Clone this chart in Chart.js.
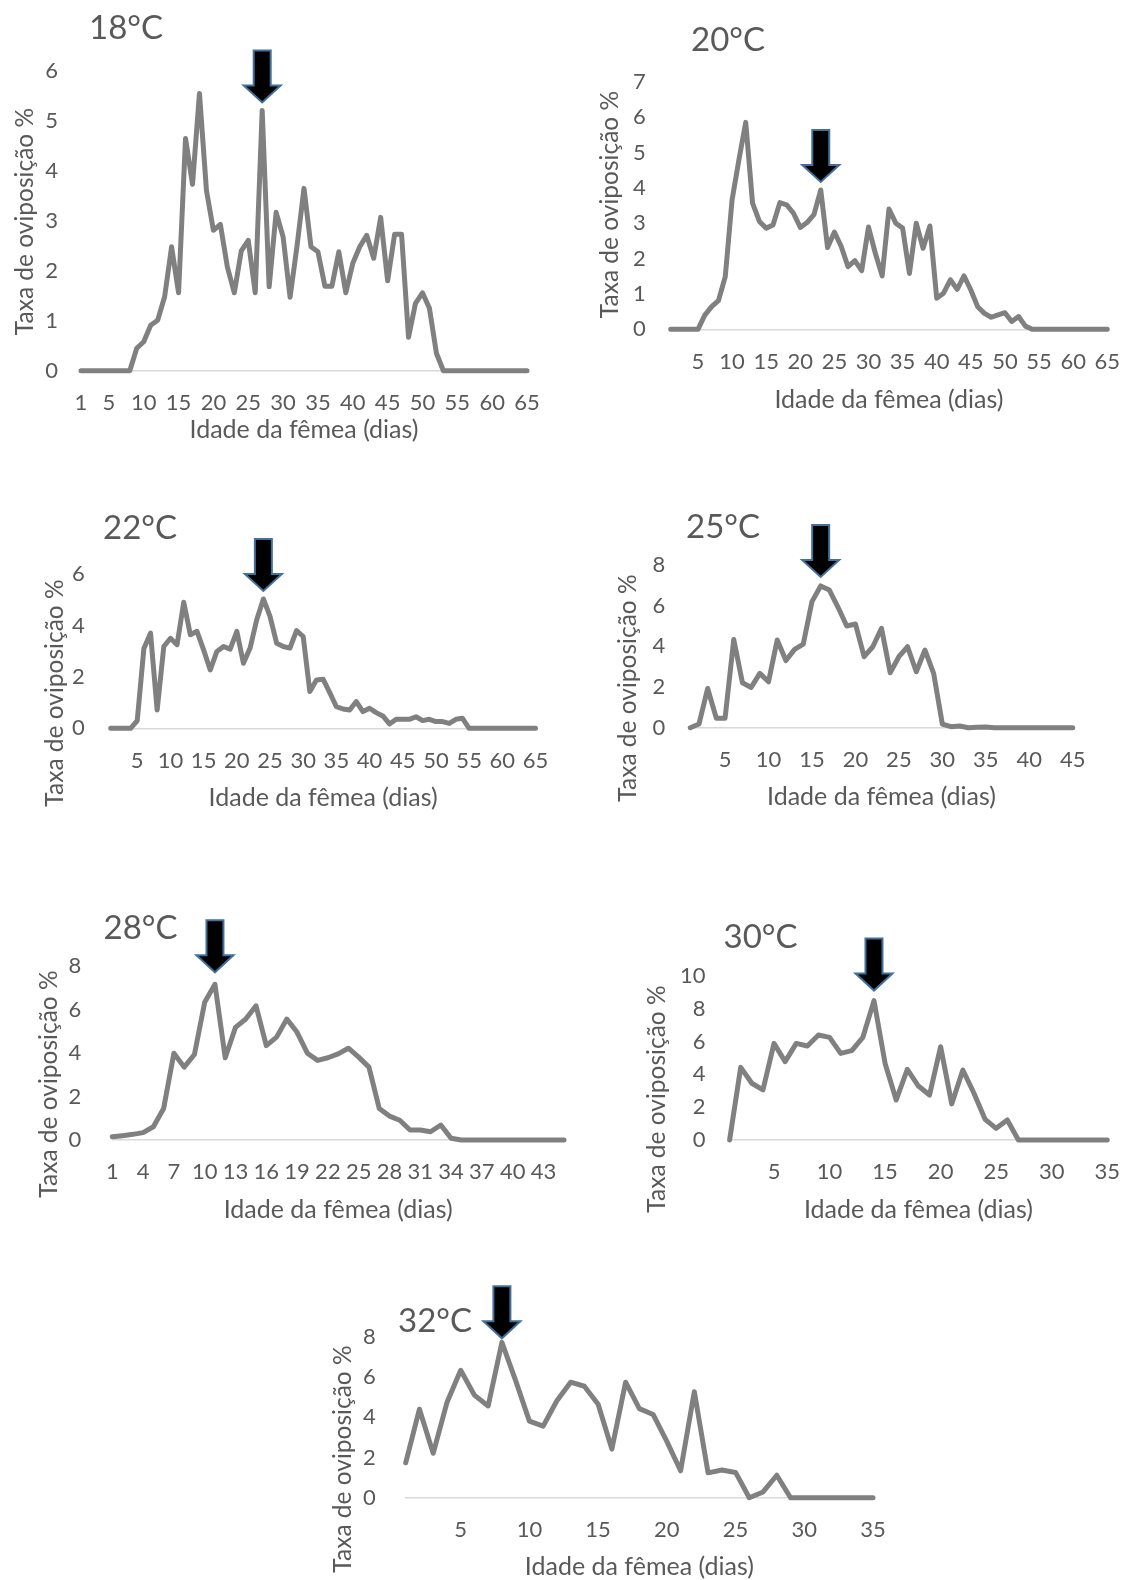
<!DOCTYPE html>
<html>
<head>
<meta charset="utf-8">
<script src="https://cdn.jsdelivr.net/npm/chart.js"></script>
<style>
  body { margin: 0; background: #fff; }
  #page { position: relative; width: 1139px; height: 1580px; overflow: hidden; }
  #page canvas { position: absolute; }
</style>
</head>
<body>
<div id="page"></div>
<script>
// oviposition rate (%) per day of female age, one series per temperature
var rate18 = [0, 0, 0, 0, 0, 0, 0, 0, 0.45, 0.58, 0.91, 1.01, 1.48, 2.48, 1.56, 4.65, 3.73, 5.55, 3.61, 2.81,
              2.93, 2.08, 1.56, 2.4, 2.61, 1.56, 5.21, 1.68, 3.17, 2.68, 1.47, 2.5, 3.65, 2.48, 2.38, 1.69, 1.69, 2.38, 1.56, 2.15,
              2.48, 2.71, 2.25, 3.07, 1.8, 2.73, 2.73, 0.67, 1.35, 1.56, 1.25, 0.35, 0, 0, 0, 0, 0, 0, 0, 0,
              0, 0, 0, 0, 0];
var rate20 = [0, 0, 0, 0, 0, 0.4, 0.64, 0.81, 1.49, 3.66, 4.79, 5.85, 3.57, 3.05, 2.86, 2.95, 3.58, 3.52, 3.28, 2.88,
              3.02, 3.24, 3.94, 2.31, 2.75, 2.34, 1.77, 1.94, 1.66, 2.89, 2.15, 1.51, 3.4, 3.0, 2.86, 1.58, 3.0, 2.29, 2.92, 0.88,
              1.02, 1.4, 1.13, 1.51, 1.11, 0.64, 0.45, 0.34, 0.41, 0.47, 0.22, 0.36, 0.09, 0, 0, 0, 0, 0, 0, 0,
              0, 0, 0, 0, 0];
var rate22 = [0, 0, 0, 0, 0.3, 3.1, 3.7, 0.71, 3.18, 3.5, 3.25, 4.9, 3.64, 3.77, 3.05, 2.27, 2.99, 3.18, 3.08, 3.77,
              2.53, 3.12, 4.22, 5.03, 4.35, 3.31, 3.18, 3.12, 3.8, 3.57, 1.43, 1.88, 1.91, 1.39, 0.84, 0.75, 0.71, 1.04, 0.65, 0.78,
              0.61, 0.48, 0.17, 0.35, 0.35, 0.35, 0.45, 0.3, 0.35, 0.26, 0.26, 0.19, 0.35, 0.39, 0, 0, 0, 0, 0, 0,
              0, 0, 0, 0, 0];
var rate25 = [0, 0.18, 1.93, 0.46, 0.46, 4.34, 2.21, 1.98, 2.67, 2.26, 4.31, 3.3, 3.85, 4.11, 6.2, 6.97, 6.77, 5.92, 5.0, 5.1,
              3.49, 3.98, 4.89, 2.7, 3.49, 3.98, 2.75, 3.82, 2.67, 0.18, 0.05, 0.08, 0, 0.02, 0.03, 0, 0, 0, 0, 0,
              0, 0, 0, 0, 0];
var rate28 = [0.15, 0.2, 0.26, 0.34, 0.61, 1.45, 3.99, 3.35, 3.93, 6.33, 7.16, 3.78, 5.18, 5.56, 6.17, 4.34, 4.73, 5.56, 4.95, 3.99,
              3.66, 3.78, 3.96, 4.22, 3.81, 3.35, 1.45, 1.1, 0.91, 0.46, 0.46, 0.38, 0.69, 0.08, 0, 0, 0, 0, 0, 0,
              0, 0, 0, 0, 0];
var rate30 = [0, 4.43, 3.46, 3.05, 5.89, 4.78, 5.89, 5.73, 6.4, 6.26, 5.28, 5.45, 6.26, 8.5, 4.67, 2.44, 4.31, 3.29, 2.74, 5.69,
              2.2, 4.27, 2.85, 1.26, 0.71, 1.22, 0, 0, 0, 0, 0, 0, 0, 0, 0];
var rate32 = [1.74, 4.4, 2.21, 4.73, 6.33, 5.1, 4.56, 7.72, 5.82, 3.81, 3.56, 4.82, 5.74, 5.54, 4.65, 2.42, 5.74, 4.43, 4.14, 2.8,
              1.34, 5.27, 1.24, 1.38, 1.26, 0, 0.29, 1.12, 0, 0, 0, 0, 0, 0, 0];

// female age in days (categories)
function dayList(n) { return Array.from({ length: n }, function (_, i) { return i + 1; }); }
var days18 = dayList(65), days20 = dayList(65), days22 = dayList(65), days25 = dayList(45);
var days28 = dayList(45), days30 = dayList(35), days32 = dayList(35);

// day of the marked peak (arrow)
var peakDays = { t18: 27, t20: 23, t22: 24, t25: 16, t28: 11, t30: 14, t32: 8 };

var every5 = function (d) { return d % 5 === 0; };

// layout: canvas box [left, top, w, h], plot area [x0, yTop, x1, yZero] in page px
var panels = [
  { temp: '18°C', days: days18, values: rate18, peak: peakDays.t18, yMax: 6, yStep: 1,
    tick: function (d) { return d === 1 || d % 5 === 0; },
    box: [0, 0, 565, 450], area: [81, 71, 527, 370.7], tempAt: [126, 28], yTitleAt: [25, 221.5], xTitleY: 430,
    arrowGap: 8, yPad: 23 },
  { temp: '20°C', days: days20, values: rate20, peak: peakDays.t20, yMax: 7, yStep: 1, tick: every5,
    box: [575, 0, 564, 430], area: [670.7, 81.7, 1114, 329.3], tempAt: [728, 40], yTitleAt: [610, 204.5], xTitleY: 400,
    arrowGap: 8, yPad: 25 },
  { temp: '22°C', days: days22, values: rate22, peak: peakDays.t22, yMax: 6, yStep: 2, tick: every5,
    box: [0, 480, 570, 340], area: [110.7, 574, 535.5, 728.3], tempAt: [140, 528], yTitleAt: [55, 693], xTitleY: 798,
    arrowGap: 8, yPad: 26 },
  { temp: '25°C', days: days25, values: rate25, peak: peakDays.t25, yMax: 8, yStep: 2, tick: every5,
    box: [580, 480, 559, 340], area: [690.3, 565, 1072.7, 727.7], tempAt: [723, 527], yTitleAt: [628, 688], xTitleY: 797,
    arrowGap: 9, yPad: 25 },
  { temp: '28°C', days: days28, values: rate28, peak: peakDays.t28, yMax: 8, yStep: 2,
    tick: function (d) { return (d - 1) % 3 === 0; },
    box: [0, 880, 600, 360], area: [112.3, 966, 564, 1140], tempAt: [140.5, 928], yTitleAt: [49, 1084], xTitleY: 1210,
    arrowGap: 12, yPad: 31 },
  { temp: '30°C', days: days30, values: rate30, peak: peakDays.t30, yMax: 10, yStep: 2, tick: every5,
    box: [610, 880, 529, 360], area: [729.6, 976, 1119, 1140], tempAt: [760.5, 937], yTitleAt: [657, 1099], xTitleY: 1210,
    arrowGap: 10, yPad: 24 },
  { temp: '32°C', days: days32, values: rate32, peak: peakDays.t32, yMax: 8, yStep: 2, tick: every5,
    box: [300, 1250, 639, 330], area: [405.7, 1336.7, 873, 1497.8], tempAt: [435, 1321.5], yTitleAt: [343, 1459], xTitleY: 1567,
    arrowGap: 4, yPad: 30 }
];

var TEXT = '#595959';
var FONT = 'Lato';
var Y_AXIS_W = 60, X_AXIS_H = 40;

function drawArrow(ctx, x, tipY) {
  var sw = 8.5, hw = 18.5, hh = 17, h = 52;
  ctx.beginPath();
  ctx.moveTo(x - sw, tipY - h);
  ctx.lineTo(x + sw, tipY - h);
  ctx.lineTo(x + sw, tipY - hh);
  ctx.lineTo(x + hw, tipY - hh);
  ctx.lineTo(x, tipY);
  ctx.lineTo(x - hw, tipY - hh);
  ctx.lineTo(x - sw, tipY - hh);
  ctx.closePath();
  ctx.fillStyle = '#000';
  ctx.fill();
  ctx.lineJoin = 'miter';
  ctx.strokeStyle = '#41719C';
  ctx.lineWidth = 2;
  ctx.stroke();
}

// arrow, temperature label and axis titles for one panel
function makeDecor(p) {
  return {
    id: 'panelDecor',
    afterDraw: function (chart) {
      var ctx = chart.ctx;
      var ox = p.box[0], oy = p.box[1];
      var area = chart.chartArea;
      ctx.save();
      var pt = chart.getDatasetMeta(0).data[p.peak - 1];
      drawArrow(ctx, pt.x, pt.y - p.arrowGap);
      ctx.fillStyle = TEXT;
      ctx.textAlign = 'center';
      ctx.textBaseline = 'middle';
      ctx.font = '33px ' + FONT;
      ctx.fillText(p.temp, p.tempAt[0] - ox, p.tempAt[1] - oy);
      ctx.font = '25px ' + FONT;
      ctx.fillText('Idade da fêmea (dias)', (area.left + area.right) / 2, p.xTitleY - oy);
      ctx.font = '24.5px ' + FONT;
      ctx.translate(p.yTitleAt[0] - ox, p.yTitleAt[1] - oy);
      ctx.rotate(-Math.PI / 2);
      ctx.fillText('Taxa de oviposição %', 0, 0);
      ctx.restore();
    }
  };
}

var page = document.getElementById('page');
panels.forEach(function (p) {
  var cv = document.createElement('canvas');
  cv.width = p.box[2];
  cv.height = p.box[3];
  cv.style.left = p.box[0] + 'px';
  cv.style.top = p.box[1] + 'px';
  page.appendChild(cv);

  var pad = {
    left: p.area[0] - Y_AXIS_W - p.box[0],
    top: p.area[1] - p.box[1],
    right: p.box[0] + p.box[2] - p.area[2],
    bottom: p.box[1] + p.box[3] - p.area[3] - X_AXIS_H
  };

  new Chart(cv.getContext('2d'), {
    type: 'line',
    data: {
      labels: p.days,
      datasets: [{
        data: p.values,
        borderColor: '#808080',
        borderWidth: 5,
        borderJoinStyle: 'round',
        borderCapStyle: 'round',
        pointRadius: 0,
        tension: 0,
        fill: false,
        clip: false
      }]
    },
    options: {
      responsive: false,
      animation: false,
      layout: { padding: pad },
      plugins: { legend: { display: false }, tooltip: { enabled: false } },
      scales: {
        x: {
          type: 'category',
          grid: { display: false, drawTicks: false },
          border: { display: true, color: '#D9D9D9', width: 1.5 },
          ticks: {
            autoSkip: false, maxRotation: 0, padding: 19, color: TEXT,
            font: { family: FONT, size: 22 },
            callback: function (v) {
              var d = this.getLabelForValue(v);
              return p.tick(d) ? String(d) : '';
            }
          },
          afterFit: function (s) { s.height = X_AXIS_H; }
        },
        y: {
          min: 0, max: p.yMax,
          grid: { display: false, drawTicks: false },
          border: { display: false },
          ticks: { stepSize: p.yStep, padding: p.yPad, color: TEXT, font: { family: FONT, size: 22 } },
          afterFit: function (s) { s.width = Y_AXIS_W; }
        }
      }
    },
    plugins: [makeDecor(p)]
  });
});
</script>
</body>
</html>
